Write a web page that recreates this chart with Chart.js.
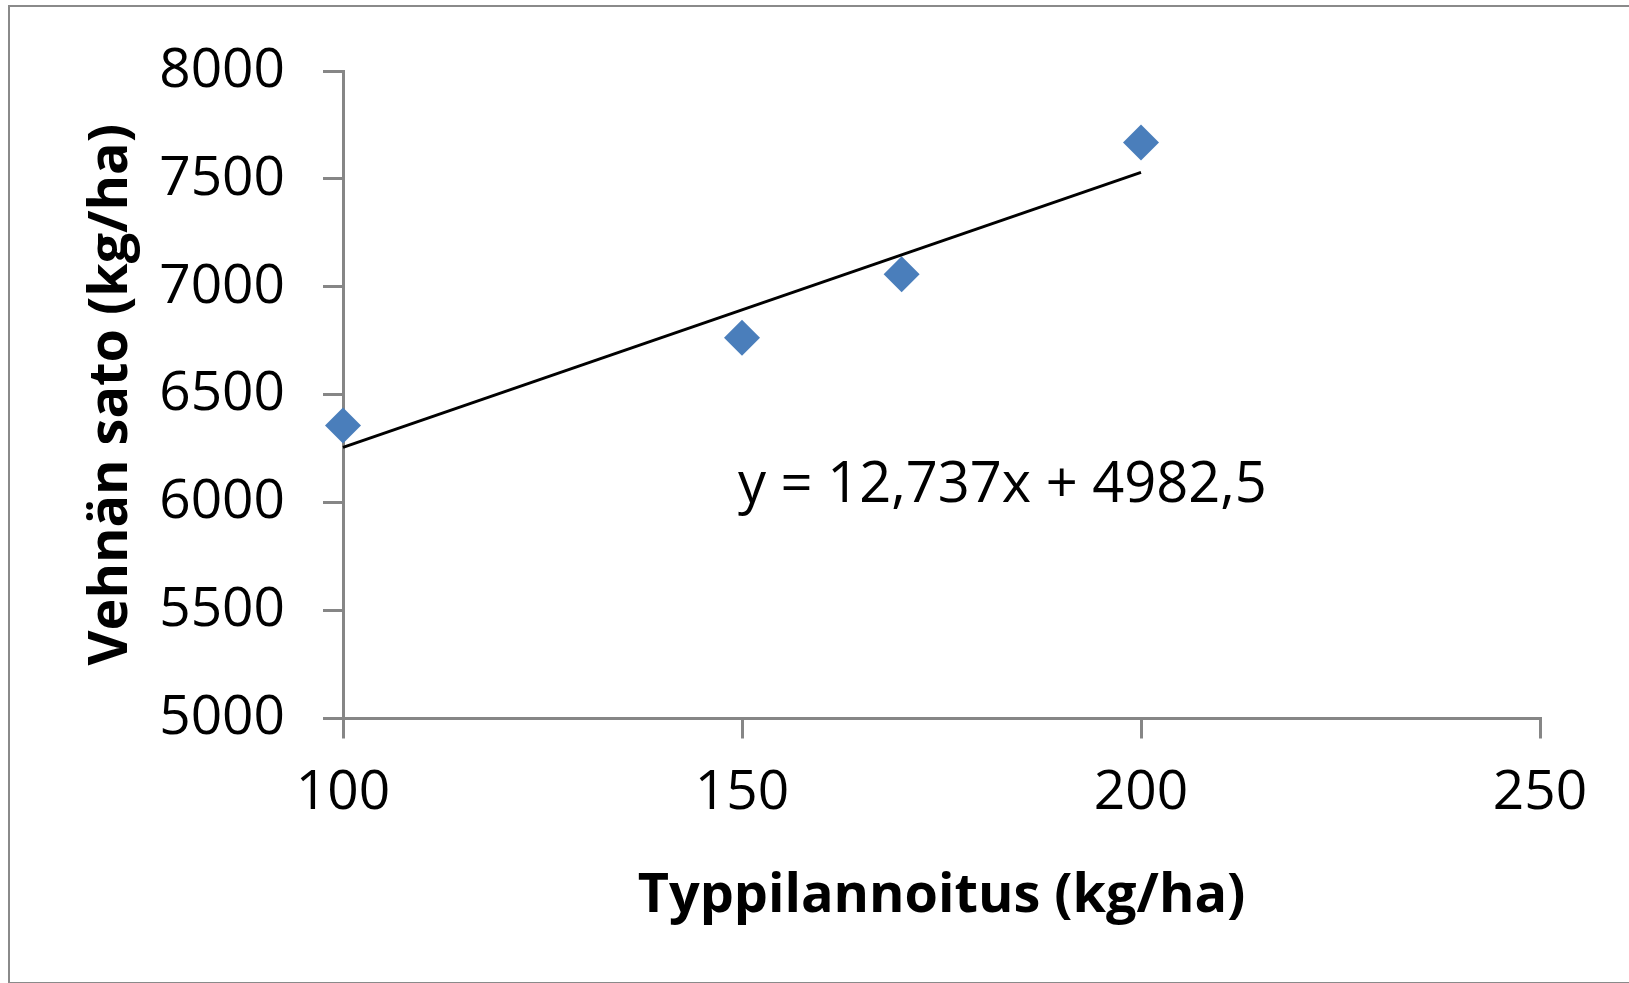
<!DOCTYPE html>
<html>
<head>
<meta charset="utf-8">
<script src="https://cdn.jsdelivr.net/npm/chart.js@4.4.0/dist/chart.umd.min.js"></script>
<style>
  html, body { margin: 0; padding: 0; background: #fff; overflow: hidden; }
  .wrap { position: relative; width: 1629px; height: 983px; }
  .frame { position: absolute; left: 8px; top: 5px; width: 1700px; height: 975px; border: 2px solid #8a8a8a; }
  canvas { position: absolute; left: 0; top: 0; }
</style>
</head>
<body>
<div class="wrap">
  <div class="frame"></div>
  <canvas id="c" width="1629" height="983"></canvas>
</div>
<script>
/* data */
const nitrogen  = [100, 150, 170, 200];          // kg/ha
const wheatYield = [6357, 6764, 7058, 7669];     // kg/ha
const trendX = [100, 200];
const trendY = [6256, 7530];
const xRange = [100, 250, 50];
const yRange = [5000, 8000, 500];

const xTitle = 'Typpilannoitus (kg/ha)';
const yTitle = 'Vehnän sato (kg/ha)';
const equation = 'y = 12,737x + 4982,5';

const FONT = "'Open Sans', sans-serif";
const AXIS = '#868686';

const titles = {
  id: 'titles',
  afterDraw(chart) {
    const { ctx, chartArea: a, scales } = chart;
    ctx.save();
    ctx.fillStyle = '#000';
    ctx.font = 'bold 54px ' + FONT;
    ctx.textAlign = 'center';
    ctx.textBaseline = 'alphabetic';
    ctx.fillText(xTitle, (a.left + a.right) / 2, 912);
    ctx.translate(127, (a.top + a.bottom) / 2);
    ctx.rotate(-Math.PI / 2);
    ctx.fillText(yTitle, 0, 0);
    ctx.restore();

    // trendline equation
    ctx.save();
    ctx.fillStyle = '#000';
    ctx.font = '56px ' + FONT;
    ctx.textAlign = 'left';
    ctx.textBaseline = 'middle';
    ctx.fillText(equation, scales.x.getPixelForValue(149.5), scales.y.getPixelForValue(6076));
    ctx.restore();
  }
};

new Chart(document.getElementById('c'), {
  type: 'scatter',
  data: {
    datasets: [
      {
        label: 'Sato',
        data: nitrogen.map((x, i) => ({ x, y: wheatYield[i] })),
        pointStyle: 'rectRot',
        pointRadius: 18,
        pointHoverRadius: 18,
        backgroundColor: '#4a7ebb',
        borderColor: '#4a7ebb',
        borderWidth: 0,
        clip: false,
        order: 2
      },
      {
        type: 'line',
        label: 'Trendi',
        data: trendX.map((x, i) => ({ x, y: trendY[i] })),
        borderColor: '#000',
        borderWidth: 3,
        pointRadius: 0,
        fill: false,
        clip: false,
        order: 1
      }
    ]
  },
  options: {
    responsive: false,
    animation: false,
    devicePixelRatio: 1,
    layout: { padding: { left: 0, right: 89, top: 67.5, bottom: 0 } },
    plugins: { legend: { display: false }, tooltip: { enabled: false } },
    scales: {
      x: {
        type: 'linear',
        min: xRange[0], max: xRange[1],
        afterFit: s => { s.height = 983 - 718.5; },
        ticks: { stepSize: xRange[2], color: '#000', font: { family: FONT, size: 55 }, padding: 22, callback: v => String(v) },
        grid: { drawOnChartArea: false, drawTicks: true, tickLength: 20, color: AXIS, lineWidth: 3 },
        border: { color: AXIS, width: 3 }
      },
      y: {
        min: yRange[0], max: yRange[1],
        afterFit: s => { s.width = 343; },
        ticks: { stepSize: yRange[2], color: '#000', font: { family: FONT, size: 55 }, padding: 38, callback: v => String(v) },
        grid: { drawOnChartArea: false, drawTicks: true, tickLength: 20, color: AXIS, lineWidth: 3 },
        border: { color: AXIS, width: 3 }
      }
    }
  },
  plugins: [titles]
});
</script>
</body>
</html>
